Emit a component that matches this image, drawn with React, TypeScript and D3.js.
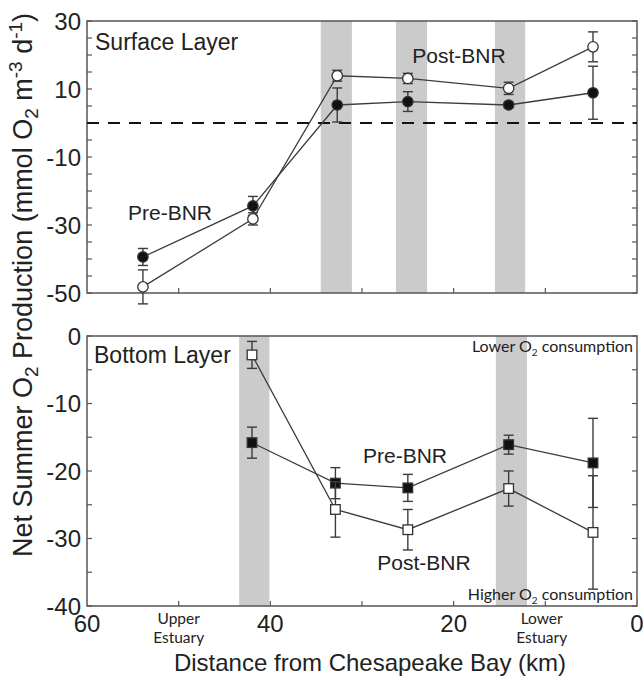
import React from "react";
import * as d3 from "d3";

// ---- data ----
const surfaceKm = [53.9, 41.9, 32.7, 25.0, 14.0, 4.8];
const surfacePre = [-39.4, -24.4, 5.3, 6.3, 5.3, 8.9];
const surfacePreErr = [2.5, 2.8, 5.0, 2.9, 0.8, 7.8];
const surfacePost = [-48.2, -28.2, 13.9, 13.1, 10.2, 22.4];
const surfacePostErr = [5.0, 1.8, 1.6, 1.5, 1.8, 4.4];

const bottomKm = [42.0, 32.9, 25.0, 14.0, 4.8];
const bottomPre = [-15.8, -21.8, -22.5, -16.1, -18.8];
const bottomPreErr = [2.3, 2.3, 2.0, 1.4, 6.6];
const bottomPost = [-2.8, -25.7, -28.7, -22.6, -29.1];
const bottomPostErr = [2.0, 4.1, 3.0, 2.6, 8.4];

const surfaceBands: [number, number][] = [[34.5, 31.1], [26.3, 22.9], [15.5, 12.2]];
const bottomBands: [number, number][] = [[43.4, 40.1], [15.4, 12.0]];

const xTickLabels = [60, 40, 20, 0];
const xMinorTicks = [50, 40, 30, 20, 10];
const surfaceYLabels = [30, 10, -10, -30, -50];
const bottomYLabels = [0, -10, -20, -30, -40];

const W = 644;
const H = 680;
const left = 87;
const right = 637;

const FONT = "Arial, 'Liberation Sans', Helvetica, sans-serif";
const FONT2 = "Lato, 'Open Sans', 'Noto Sans', sans-serif";
const INK = "#222";
const LINE = "#3c3c3c";
const BAND = "#cbcbcb";

const x = d3.scaleLinear().domain([60, 0]).range([left, right]);
const ySurf = d3.scaleLinear().domain([-50, 30]).range([293, 21]);
const yBot = d3.scaleLinear().domain([-40, 0]).range([606, 336]);

type Y = d3.ScaleLinear<number, number>;

function Panel({
  y,
  bands,
  yLabels,
}: {
  y: Y;
  bands: [number, number][];
  yLabels: number[];
}) {
  const [y0, y1] = y.domain();
  const top = y(y1);
  const bot = y(y0);
  const minor = d3.range(y0, y1 + 0.001, 5);
  return (
    <g>
      {bands.map((b, i) => (
        <rect
          key={i}
          x={x(b[0])}
          y={top}
          width={x(b[1]) - x(b[0])}
          height={bot - top}
          fill={BAND}
        />
      ))}
      <rect x={left} y={top} width={right - left} height={bot - top} fill="none" stroke="#555" strokeWidth={1.5} />
      {minor.map((v) => (
        <g key={v}>
          <line x1={left} x2={left + 5} y1={y(v)} y2={y(v)} stroke="#555" strokeWidth={1.2} />
          <line x1={right} x2={right - 5} y1={y(v)} y2={y(v)} stroke="#555" strokeWidth={1.2} />
        </g>
      ))}
      {xMinorTicks.map((k) => (
        <line key={k} x1={x(k)} x2={x(k)} y1={bot} y2={bot - 5} stroke="#555" strokeWidth={1.2} />
      ))}
      {yLabels.map((v) => (
        <text
          key={v}
          x={left - 6}
          y={y(v)}
          dy="0.36em"
          textAnchor="end"
          fontFamily={FONT}
          fontSize={24}
          fill={INK}
        >
          {v}
        </text>
      ))}
    </g>
  );
}

function Series({
  km,
  vals,
  errs,
  y,
  shape,
  filled,
}: {
  km: number[];
  vals: number[];
  errs: number[];
  y: Y;
  shape: "circle" | "square";
  filled: boolean;
}) {
  const line = d3
    .line<number>()
    .x((_, i) => x(km[i]))
    .y((v) => y(v));
  return (
    <g>
      <path d={line(vals) || ""} fill="none" stroke={LINE} strokeWidth={1.3} />
      {vals.map((v, i) => {
        const cx = x(km[i]);
        const yt = y(v + errs[i]);
        const yb = y(v - errs[i]);
        return (
          <g key={"e" + i} stroke={LINE} strokeWidth={1.4}>
            <line x1={cx} x2={cx} y1={yt} y2={yb} />
            <line x1={cx - 5} x2={cx + 5} y1={yt} y2={yt} />
            <line x1={cx - 5} x2={cx + 5} y1={yb} y2={yb} />
          </g>
        );
      })}
      {vals.map((v, i) => {
        const cx = x(km[i]);
        const cy = y(v);
        return shape === "circle" ? (
          <circle
            key={"m" + i}
            cx={cx}
            cy={cy}
            r={5.2}
            fill={filled ? "#111" : "#fff"}
            stroke="#333"
            strokeWidth={1.3}
          />
        ) : (
          <rect
            key={"m" + i}
            x={cx - 4.8}
            y={cy - 4.8}
            width={9.6}
            height={9.6}
            fill={filled ? "#111" : "#fff"}
            stroke="#333"
            strokeWidth={1.3}
          />
        );
      })}
    </g>
  );
}

export default function App() {
  return (
    <svg
      width={W}
      height={H}
      viewBox={`0 0 ${W} ${H}`}
      style={{ position: "absolute", left: 0, top: 0, background: "#fff" }}
    >
      <rect x={0} y={0} width={W} height={H} fill="#fff" />

      {/* Surface panel */}
      <Panel y={ySurf} bands={surfaceBands} yLabels={surfaceYLabels} />
      <line
        x1={left}
        x2={right}
        y1={ySurf(0)}
        y2={ySurf(0)}
        stroke="#111"
        strokeWidth={1.8}
        strokeDasharray="12,9"
      />
      <Series km={surfaceKm} vals={surfacePre} errs={surfacePreErr} y={ySurf} shape="circle" filled={true} />
      <Series km={surfaceKm} vals={surfacePost} errs={surfacePostErr} y={ySurf} shape="circle" filled={false} />
      <text x={95} y={50} fontFamily={FONT} fontSize={23} fill={INK}>
        Surface Layer
      </text>
      <text x={459} y={63} textAnchor="middle" fontFamily={FONT} fontSize={21} fill={INK}>
        Post-BNR
      </text>
      <text x={170} y={220} textAnchor="middle" fontFamily={FONT} fontSize={21} fill={INK}>
        Pre-BNR
      </text>

      {/* Bottom panel */}
      <Panel y={yBot} bands={bottomBands} yLabels={bottomYLabels} />
      <Series km={bottomKm} vals={bottomPre} errs={bottomPreErr} y={yBot} shape="square" filled={true} />
      <Series km={bottomKm} vals={bottomPost} errs={bottomPostErr} y={yBot} shape="square" filled={false} />
      <text x={94} y={363} fontFamily={FONT} fontSize={23} fill={INK}>
        Bottom Layer
      </text>
      <text x={405} y={463} textAnchor="middle" fontFamily={FONT} fontSize={21} fill={INK}>
        Pre-BNR
      </text>
      <text x={424} y={570} textAnchor="middle" fontFamily={FONT} fontSize={21} fill={INK}>
        Post-BNR
      </text>
      <text x={633} y={352} textAnchor="end" fontFamily={FONT2} fontSize={16} fill={INK}>
        Lower O<tspan fontSize={10} dy={4}>2</tspan>
        <tspan dy={-4}> consumption</tspan>
      </text>
      <text x={633} y={600} textAnchor="end" fontFamily={FONT2} fontSize={16} fill={INK}>
        Higher O<tspan fontSize={10} dy={4}>2</tspan>
        <tspan dy={-4}> consumption</tspan>
      </text>

      {/* X axis labels */}
      {xTickLabels.map((v) => (
        <text key={v} x={x(v)} y={632} textAnchor="middle" fontFamily={FONT} fontSize={24} fill={INK}>
          {v}
        </text>
      ))}
      <text x={x(50)} y={624} textAnchor="middle" fontFamily={FONT2} fontSize={15.5} fill={INK}>
        Upper
      </text>
      <text x={x(50)} y={643} textAnchor="middle" fontFamily={FONT2} fontSize={15.5} fill={INK}>
        Estuary
      </text>
      <text x={x(10.4)} y={624} textAnchor="middle" fontFamily={FONT2} fontSize={15.5} fill={INK}>
        Lower
      </text>
      <text x={x(10.4)} y={643} textAnchor="middle" fontFamily={FONT2} fontSize={15.5} fill={INK}>
        Estuary
      </text>
      <text x={370} y={671} textAnchor="middle" fontFamily={FONT} fontSize={24} fill={INK}>
        Distance from Chesapeake Bay (km)
      </text>

      {/* Y axis title */}
      <text
        transform="translate(32,285) rotate(-90)"
        textAnchor="middle"
        fontFamily={FONT}
        fontSize={27}
        fill={INK}
      >
        Net Summer O<tspan fontSize={19} dy={6}>2</tspan>
        <tspan dy={-6}> Production (mmol O</tspan>
        <tspan fontSize={19} dy={6}>2</tspan>
        <tspan dy={-6}> m</tspan>
        <tspan fontSize={19} dy={-10}>-3</tspan>
        <tspan dy={10}> d</tspan>
        <tspan fontSize={19} dy={-10}>-1</tspan>
        <tspan dy={10}>)</tspan>
      </text>
    </svg>
  );
}
